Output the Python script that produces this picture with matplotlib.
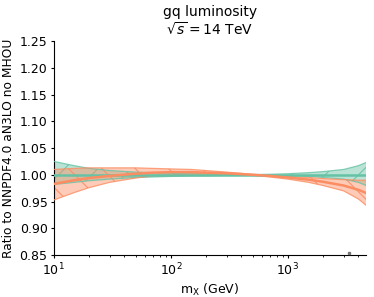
import numpy as np
import matplotlib
matplotlib.use("Agg")
import matplotlib.pyplot as plt

# m_X grid (GeV)
mx = [10, 15, 20, 30, 50, 70, 100, 150, 200, 300, 500, 700, 1000, 1500, 2000, 3000, 4000, 4667]

# reference fit (green), central = 1
green_cv = [1.0] * len(mx)
green_up = [1.025, 1.017, 1.012, 1.008, 1.005, 1.004, 1.003, 1.002, 1.002, 1.001, 1.0005, 1.001, 1.002, 1.004, 1.006, 1.010, 1.017, 1.023]
green_lo = [0.982, 0.986, 0.989, 0.992, 0.995, 0.996, 0.997, 0.998, 0.998, 0.999, 0.9995, 0.999, 0.998, 0.997, 0.995, 0.992, 0.986, 0.980]

# compared fit (orange)
orange_cv = [0.983, 0.990, 0.994, 0.998, 1.002, 1.004, 1.005, 1.005, 1.004, 1.003, 1.000, 0.998, 0.995, 0.991, 0.987, 0.980, 0.972, 0.966]
orange_up = [1.010, 1.012, 1.013, 1.013, 1.013, 1.012, 1.011, 1.010, 1.008, 1.005, 1.001, 0.999, 0.997, 0.995, 0.993, 0.991, 0.990, 0.990]
orange_lo = [0.953, 0.967, 0.976, 0.986, 0.994, 0.998, 1.000, 1.001, 1.001, 1.001, 0.999, 0.996, 0.992, 0.986, 0.980, 0.970, 0.955, 0.943]

stray_x = [3310]
stray_y = [0.854]

plt.rcParams["hatch.linewidth"] = 0.8

fig = plt.figure(figsize=(3.74, 2.97), dpi=100)
ax = fig.add_axes([0.144, 0.141, 0.835, 0.721])

series = [
    (green_cv, green_up, green_lo, "#66c2a5", "/"),
    (orange_cv, orange_up, orange_lo, "#fc8d62", "\\"),
]
for cv, up, lo, col, hatch in series:
    ax.fill_between(mx, lo, up, facecolor=col, alpha=0.45, linewidth=0, zorder=2)
    ax.fill_between(mx, lo, up, facecolor="none", edgecolor=col, alpha=0.9,
                    hatch=hatch, linewidth=0, zorder=2)
    ax.plot(mx, up, color=col, lw=0.9, alpha=0.8, zorder=3)
    ax.plot(mx, lo, color=col, lw=0.9, alpha=0.8, zorder=3)
    ax.plot(mx, cv, color=col, lw=1.8, zorder=4)

ax.plot(stray_x, stray_y, "s", color="#777777", ms=2, zorder=5)

ax.set_xscale("log")
ax.set_xlim(10, 4667)
ax.set_ylim(0.85, 1.25)
ax.set_yticks([0.85, 0.90, 0.95, 1.00, 1.05, 1.10, 1.15, 1.20, 1.25])
ax.spines["top"].set_visible(False)
ax.spines["right"].set_visible(False)

ax.set_title("gq luminosity\n$\\sqrt{s} = 14$ TeV", fontsize=10, pad=4)
ax.set_xlabel("m$_\\mathrm{X}$ (GeV)", fontsize=9, labelpad=3)
ax.set_ylabel("Ratio to NNPDF4.0 aN3LO no MHOU", fontsize=8.8, labelpad=3)
ax.tick_params(labelsize=9, length=2.5, pad=2)
ax.tick_params(which="minor", length=1.5)

fig.savefig("out.png", dpi=100)
